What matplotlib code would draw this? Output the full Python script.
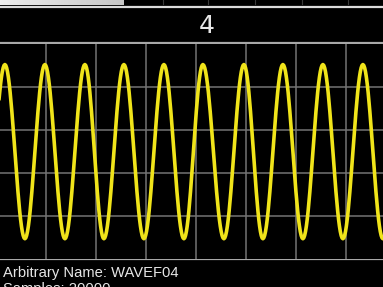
import numpy as np
import matplotlib
matplotlib.use("Agg")
import matplotlib.pyplot as plt

# waveform extremes, in grid divisions (x from left grid line, y from bottom)
peak_x = [0.18, 0.98, 1.78, 2.56, 3.36, 4.14, 4.96, 5.74, 6.54, 7.34, 8.14]
trough_x = [-0.22, 0.58, 1.38, 2.16, 2.96, 3.76, 4.56, 5.34, 6.14, 6.94, 7.74]
peak_level = 4.51
trough_level = 0.46

channel_label = "4"
info_lines = ["Arbitrary Name: WAVEF04", "Samples: 20000"]

n_xdiv = 8
n_ydiv = 5

W, H = 383, 287
fig = plt.figure(figsize=(W / 100, H / 100), dpi=100, facecolor="black")

# frame / decorations in pixel coords
bg = fig.add_axes([0, 0, 1, 1])
bg.set_xlim(0, W)
bg.set_ylim(H, 0)
bg.axis("off")
bg.add_patch(plt.Rectangle((0, 0), W, H, color="black", zorder=0))

grad = np.linspace(0.93, 0.78, 100).reshape(1, -1)
bg.imshow(grad, cmap="gray", vmin=0, vmax=1, extent=(0, 124, 5.5, 0), aspect="auto", zorder=1)
for tx in [163, 208, 255, 302, 348]:
    bg.plot([tx, tx], [0, 4], color="#3a3a3a", lw=0.8, zorder=2)
bg.axhline(6.5, color="#dcdcdc", lw=1.6, zorder=2)
bg.axhline(42.8, color="#a8a8a8", lw=1.6, zorder=2)
bg.axhline(259.2, color="#a8a8a8", lw=1.6, zorder=2)

bg.text(207, 26, channel_label, color="#e6e6e6", fontsize=18, ha="center", va="center",
        family="DejaVu Sans")
bg.text(3, 277, info_lines[0], color="#e6e6e6", fontsize=10.6, ha="left", va="baseline",
        family="Liberation Sans")
bg.text(3, 293, info_lines[1], color="#e6e6e6", fontsize=10.6, ha="left", va="baseline",
        family="Liberation Sans")

# scope screen
x0, x1 = -4.1, -4.1 + 50 * n_xdiv
y_top, y_bot = 43.5, 258.5
ax = fig.add_axes([x0 / W, (H - y_bot) / H, (x1 - x0) / W, (y_bot - y_top) / H])
ax.set_facecolor("black")
ax.set_xlim(0, n_xdiv)
ax.set_ylim(0, n_ydiv)
ax.set_xticks(np.arange(1, n_xdiv))
ax.set_yticks(np.arange(1, n_ydiv))
ax.grid(True, color="#747474", lw=1.1)
ax.tick_params(length=0, labelbottom=False, labelleft=False)
for s in ax.spines.values():
    s.set_visible(False)

ext = sorted([(x, trough_level) for x in trough_x] + [(x, peak_level) for x in peak_x])
xs, ys = [], []
t = np.linspace(0, 1, 24)
for (xa, ya), (xb, yb) in zip(ext[:-1], ext[1:]):
    xs.append(xa + t * (xb - xa))
    ys.append(ya + (yb - ya) * (1 - np.cos(np.pi * t)) / 2)
ax.plot(np.concatenate(xs), np.concatenate(ys), color="#f0e41a", lw=2.6,
        solid_capstyle="round", zorder=3)

fig.savefig("out.png", dpi=100, facecolor="black")
